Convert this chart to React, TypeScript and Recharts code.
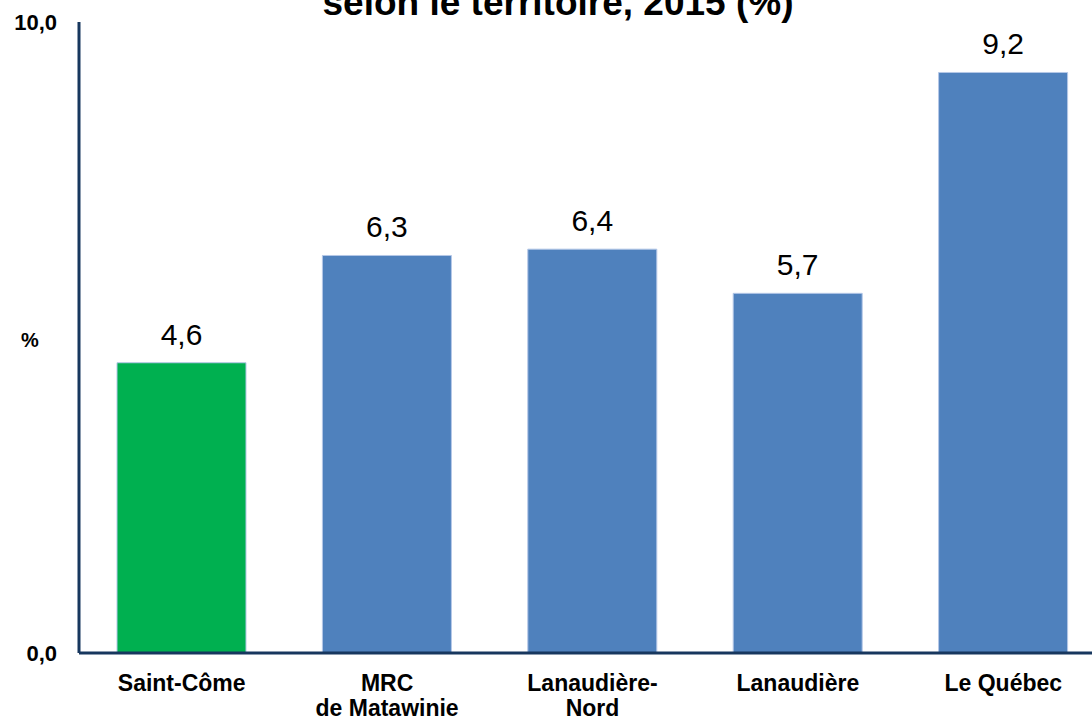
import { Bar, BarChart, Cell, LabelList, XAxis, YAxis } from "recharts";

const territories = ["Saint-Côme", "MRC\nde Matawinie", "Lanaudière-\nNord", "Lanaudière", "Le Québec"];
const rates = [4.6, 6.3, 6.4, 5.7, 9.2];
const barColors = ["#00B050", "#4F81BD", "#4F81BD", "#4F81BD", "#4F81BD"];
const yTicks = [0, 10];

const chartData = territories.map((name, i) => ({ name, value: rates[i] }));

const fmt = (v: number) => v.toFixed(1).replace(".", ",");

const axisColor = "#17375E";
const font = "'Liberation Sans', Arial, sans-serif";

const CategoryTick = (props: any) => {
  const { x, y, payload } = props;
  const lines = String(payload.value).split("\n");
  return (
    <text x={x} y={y} textAnchor="middle" fontFamily={font} fontWeight="bold" fontSize={23} fill="#000">
      {lines.map((line, i) => (
        <tspan key={line} x={x} dy={i === 0 ? 30 : 25}>
          {line}
        </tspan>
      ))}
    </text>
  );
};

export default function App() {
  return (
    <div
      style={{
        position: "absolute",
        left: 0,
        top: 0,
        width: 1092,
        height: 719,
        overflow: "hidden",
        background: "#fff",
      }}
    >
      <BarChart
        width={1110}
        height={719}
        data={chartData}
        margin={{ top: 22, right: 4, bottom: 0, left: 0 }}
        barSize={129}
      >
        <XAxis
          dataKey="name"
          axisLine={{ stroke: axisColor, strokeWidth: 3 }}
          tickLine={false}
          tick={<CategoryTick />}
          interval={0}
          height={66}
        />
        <YAxis
          domain={[0, 10]}
          ticks={yTicks}
          width={79}
          axisLine={{ stroke: axisColor, strokeWidth: 3 }}
          tickLine={false}
          tickSize={0}
          tickMargin={22}
          tickFormatter={fmt}
          tick={{ fontFamily: font, fontWeight: "bold", fontSize: 22, fill: "#000" }}
        />
        <Bar dataKey="value" isAnimationActive={false} stroke="#b4c7e7" strokeWidth={1}>
          {chartData.map((d, i) => (
            <Cell key={d.name} fill={barColors[i]} />
          ))}
          <LabelList
            dataKey="value"
            position="top"
            offset={18}
            formatter={(v: any) => fmt(Number(v))}
            style={{ fontFamily: font, fontSize: 30, fill: "#000" }}
          />
        </Bar>
      </BarChart>
      <svg
        width={1092}
        height={719}
        style={{ position: "absolute", left: 0, top: 0, pointerEvents: "none" }}
      >
        <text x={558} y={15} textAnchor="middle" fontFamily={font} fontWeight="bold" fontSize={37} fill="#000">
          selon le territoire, 2015 (%)
        </text>
        <text x={30} y={347} textAnchor="middle" fontFamily={font} fontWeight="bold" fontSize={20} fill="#000">
          %
        </text>
      </svg>
    </div>
  );
}
